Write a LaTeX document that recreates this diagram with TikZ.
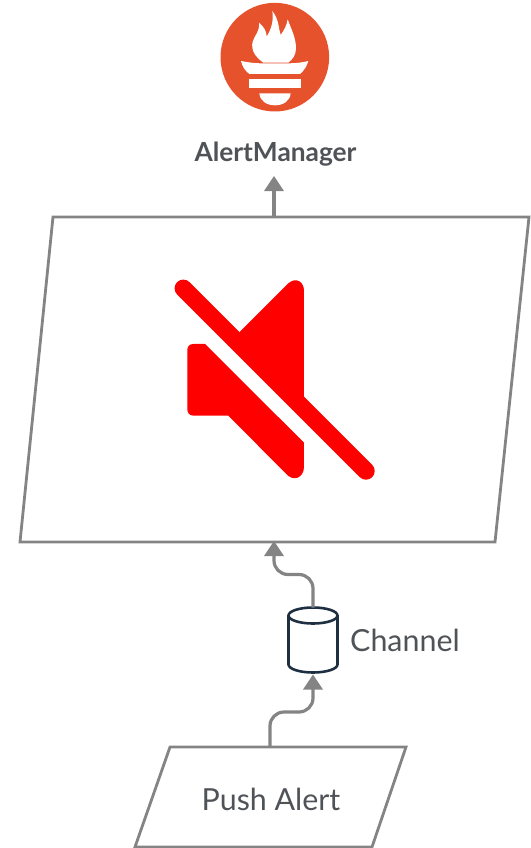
\documentclass[tikz,border=0pt]{standalone}
\usepackage{fontspec}
\setmainfont{Lato}
\usetikzlibrary{arrows.meta,calc}

\definecolor{flowgray}{HTML}{848484}
\definecolor{labelgray}{HTML}{4F5358}
\definecolor{promorange}{HTML}{E6522C}
\definecolor{channelnavy}{HTML}{1F2F42}

\tikzset{
    panel/.style={draw=flowgray,line width=2.8pt,line join=miter},
    flowline/.style={draw=flowgray,line width=3.2pt,-{Triangle[length=15pt,width=19pt]}},
    flowbend/.style={rounded corners=14pt},
    labeltext/.style={text=labelgray,inner sep=0pt,font=\fontsize{30.4}{33}\selectfont},
    drum/.style={draw=channelnavy,line width=2.6pt}
}

\begin{document}
\begin{tikzpicture}[x=1pt,y=-1pt]

    \useasboundingbox (0,0) rectangle (530,848);

    % main panel
    \coordinate (maintl) at (53,217);
    \coordinate (maintr) at (529,217);
    \coordinate (mainbr) at (495,542);
    \coordinate (mainbl) at (20,542);
    \draw[panel] (maintl) -- (maintr) -- (mainbr) -- (mainbl) -- cycle;

    % push panel
    \coordinate (pushtl) at (170,747);
    \coordinate (pushtr) at (406,747);
    \coordinate (pushbr) at (372,847);
    \coordinate (pushbl) at (135,847);
    \draw[panel] (pushtl) -- (pushtr) -- (pushbr) -- (pushbl) -- cycle;

    % labels
    \node[labeltext] (pushlabel) at (271,799.5) {Push Alert};
    \node[labeltext,anchor=west] (channellabel) at (350,640.5) {Channel};
    \node[labeltext,font=\fontsize{26.3}{30}\bfseries\selectfont] (alertlabel) at (275.5,154.5) {AlertManager};

    % channel
    \node[minimum width=49pt,minimum height=65pt,inner sep=0pt,outer sep=0pt] (channel) at (313,640) {};
    \draw[drum] ($(channel.north)+(0,8)$) ellipse [x radius=24.5,y radius=8];
    \draw[drum] ($(channel.north west)+(0,8)$) -- ($(channel.south west)+(0,-8)$)
        arc [start angle=180,end angle=360,x radius=24.5,y radius=-8]
        -- ($(channel.north east)+(0,8)$);

    % connectors
    \coordinate (pushout) at (270,747);
    \coordinate (mainin) at (274,541);
    \coordinate (mainout) at (274,217);
    \coordinate (alertin) at (274,176);
    \draw[flowline,flowbend] (pushout) -- ++(0,-35) -| ($(channel.south)+(0,2)$);
    \draw[flowline,flowbend] (channel.north) -- ++(0,-33) -| (mainin);
    \draw[flowline] (mainout) -- (alertin);

    % mute icon
    \begin{scope}[shift={(160,270)},x=0.3333pt,y=-0.3333pt]
        \draw[red,line width=17.5pt,line cap=round] (70,55) -- (618,603);
        \fill[red] (238,187) -- (385,40) .. controls (408,20) and (432,35) .. (432,62)
            -- (432,382) -- (300,300) -- cycle;
        \fill[red] (100,222) -- (135,222) -- (432,518) -- (432,590)
            .. controls (432,625) and (398,638) .. (375,608)
            -- (205,437) -- (100,437) .. controls (88,437) and (82,428) .. (82,418)
            -- (82,240) .. controls (82,230) and (88,222) .. (100,222) -- cycle;
    \end{scope}

    % prometheus logo
    \begin{scope}[shift={(210,0)},x=0.3333pt,y=-0.3333pt]
        \fill[promorange] (194.5,171.5) circle [radius=163];
        \fill[white] (160,188) .. controls (135,170) and (122,150) .. (128,125)
            .. controls (134,105) and (150,95) .. (147,68)
            .. controls (162,80) and (170,95) .. (170,110)
            .. controls (182,90) and (192,65) .. (187,33)
            .. controls (208,60) and (205,85) .. (212,105)
            .. controls (222,90) and (230,78) .. (233,58)
            .. controls (245,90) and (258,115) .. (258,145)
            .. controls (258,165) and (248,178) .. (235,188) -- cycle;
        \fill[white] (93,183) .. controls (120,188) and (135,190) .. (155,190)
            -- (235,190) .. controls (255,190) and (275,188) .. (295,183)
            .. controls (290,200) and (282,212) .. (270,222)
            -- (118,222) .. controls (105,212) and (97,200) .. (93,183) -- cycle;
        \fill[white] (117,238) rectangle (272,265);
        \fill[white] (148,280) -- (242,280) .. controls (240,303) and (220,316) .. (195,316)
            .. controls (170,316) and (150,303) .. (148,280) -- cycle;
    \end{scope}

\end{tikzpicture}
\end{document}
